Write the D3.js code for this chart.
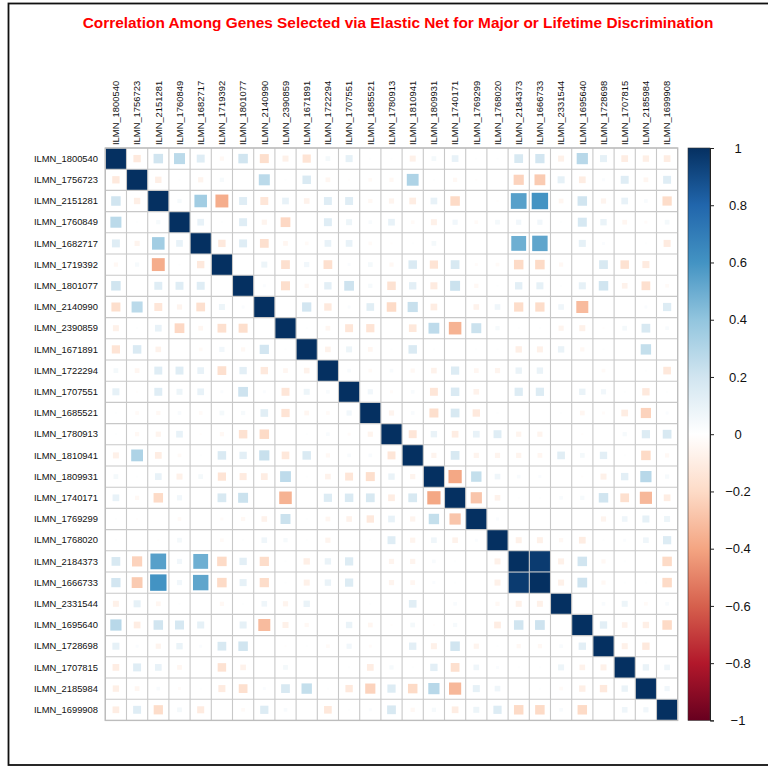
<!DOCTYPE html>
<html>
<head>
<meta charset="utf-8">
<script src="https://cdn.jsdelivr.net/npm/d3@7"></script>
<style>
  html, body { margin: 0; padding: 0; background: #ffffff; }
  svg { display: block; }
  text { font-family: "Liberation Sans", Arial, sans-serif; }
</style>
</head>
<body>
<svg id="chart" width="768" height="767"></svg>
<script>
// Genes selected via elastic net (row/column order of the matrix)
const genes = [
  "ILMN_1800540", "ILMN_1756723", "ILMN_2151281", "ILMN_1760849", "ILMN_1682717",
  "ILMN_1719392", "ILMN_1801077", "ILMN_2140990", "ILMN_2390859", "ILMN_1671891",
  "ILMN_1722294", "ILMN_1707551", "ILMN_1685521", "ILMN_1780913", "ILMN_1810941",
  "ILMN_1809931", "ILMN_1740171", "ILMN_1769299", "ILMN_1768020", "ILMN_2184373",
  "ILMN_1666733", "ILMN_2331544", "ILMN_1695640", "ILMN_1728698", "ILMN_1707815",
  "ILMN_2185984", "ILMN_1699908"
];

// Lower triangle of the correlation matrix: row i holds r(i, j) for j < i
const lowerRows = [
  [],
  [-0.12],
  [0.20, -0.09],
  [0.27, 0.01, 0.04],
  [0.14, -0.06, 0.35, 0.10],
  [-0.04, 0.04, -0.37, 0.01, -0.12],
  [0.20, 0.00, 0.14, 0.14, 0.14, 0.00],
  [-0.18, 0.27, -0.14, -0.06, -0.17, 0.08, 0.02],
  [-0.08, 0.01, 0.10, -0.21, -0.05, -0.17, -0.18, 0.00],
  [-0.15, 0.16, -0.07, 0.00, -0.03, 0.06, -0.04, 0.19, 0.01],
  [0.05, -0.05, 0.14, 0.14, 0.10, -0.17, 0.12, -0.12, -0.05, -0.07],
  [0.11, -0.01, 0.14, 0.08, 0.10, 0.02, 0.21, 0.02, -0.14, 0.08, 0.03],
  [0.01, -0.03, -0.04, 0.03, -0.03, 0.05, 0.04, 0.13, -0.15, -0.05, -0.03, 0.06],
  [0.01, -0.04, -0.06, 0.10, -0.01, -0.04, -0.16, -0.20, 0.00, 0.01, 0.03, -0.02, -0.06],
  [-0.08, 0.31, -0.10, -0.03, 0.01, 0.16, 0.12, 0.23, -0.13, 0.16, -0.04, 0.03, 0.03, -0.14],
  [0.05, 0.01, 0.10, -0.08, 0.05, -0.15, -0.11, -0.10, 0.26, 0.01, -0.07, -0.14, -0.18, 0.09, -0.06],
  [0.10, -0.04, -0.20, 0.06, 0.00, 0.17, 0.22, 0.00, -0.35, 0.00, 0.15, 0.16, 0.17, -0.10, 0.17, -0.39],
  [0.01, -0.01, 0.00, -0.03, 0.00, -0.02, -0.04, -0.07, 0.22, 0.01, -0.05, -0.07, -0.12, 0.10, -0.06, 0.24, -0.28],
  [0.01, 0.00, -0.01, 0.05, 0.00, -0.03, 0.01, 0.07, 0.04, 0.01, -0.06, 0.00, 0.01, 0.14, -0.06, 0.07, -0.07, 0.02],
  [0.17, -0.23, 0.55, 0.06, 0.49, -0.20, 0.12, -0.19, 0.01, -0.09, 0.09, 0.15, 0.00, -0.06, -0.06, 0.03, 0.01, 0.00, -0.08],
  [0.19, -0.26, 0.60, 0.06, 0.53, -0.20, 0.11, -0.19, 0.01, -0.08, 0.09, 0.15, 0.00, -0.06, -0.05, 0.02, 0.01, 0.00, -0.08, 0.96],
  [-0.08, 0.11, -0.05, 0.01, 0.00, -0.04, 0.01, 0.07, -0.06, 0.09, 0.00, 0.00, 0.01, 0.00, 0.13, 0.00, 0.03, 0.00, -0.04, -0.08, -0.08],
  [0.28, -0.10, 0.20, 0.18, 0.11, 0.00, 0.11, -0.32, -0.08, -0.04, 0.00, 0.09, -0.05, -0.01, 0.05, -0.01, 0.04, 0.00, -0.10, 0.20, 0.21, 0.00],
  [0.11, 0.02, -0.06, 0.09, 0.02, 0.17, 0.20, 0.00, -0.01, 0.01, -0.03, 0.06, -0.02, 0.00, 0.12, -0.08, 0.20, -0.06, 0.01, -0.04, -0.04, 0.03, 0.12],
  [-0.10, 0.14, 0.10, -0.05, 0.00, -0.16, -0.07, 0.00, 0.05, 0.00, 0.00, 0.01, -0.10, 0.04, 0.01, 0.12, -0.17, 0.07, 0.02, 0.01, 0.01, 0.08, -0.07, -0.08],
  [-0.09, -0.05, 0.03, -0.02, 0.01, -0.11, -0.17, 0.02, 0.17, 0.24, 0.01, -0.12, -0.23, 0.15, -0.20, 0.28, -0.33, 0.11, 0.07, 0.00, 0.01, -0.03, -0.09, -0.12, 0.09],
  [-0.10, 0.14, -0.19, 0.05, -0.11, 0.00, -0.03, 0.15, 0.03, 0.00, -0.13, 0.01, 0.02, 0.17, -0.04, 0.04, -0.10, 0.08, 0.15, -0.20, -0.20, 0.03, -0.20, 0.00, 0.07, 0.06]
];

// Colour legend tick values
const legendTicks = [-1, -0.8, -0.6, -0.4, -0.2, 0, 0.2, 0.4, 0.6, 0.8, 1];

// Diverging RdBu palette stops from -1 to 1
const paletteStops = ["#67001F", "#B2182B", "#D6604D", "#F4A582", "#FDDBC7", "#FFFFFF",
                      "#D1E5F0", "#92C5DE", "#4393C3", "#2166AC", "#053061"];

const titleText = "Correlation Among Genes Selected via Elastic Net for Major or Lifetime Discrimination";

// Full symmetric matrix built from the lower triangle
const n = genes.length;
const cells = [];
for (let i = 0; i < n; i++) {
  for (let j = 0; j < n; j++) {
    let r;
    if (i === j) r = 1;
    else if (j < i) r = lowerRows[i][j];
    else r = lowerRows[j][i];
    cells.push({ row: genes[i], col: genes[j], r });
  }
}

const svg = d3.select("#chart");

// outer frame
svg.append("rect")
  .attr("x", 8.5).attr("y", 3.5)
  .attr("width", 770).attr("height", 761.5)
  .attr("fill", "none").attr("stroke", "#111").attr("stroke-width", 1.8);

// title
svg.append("text")
  .attr("x", 398).attr("y", 27.5)
  .attr("text-anchor", "middle")
  .attr("fill", "#ff0000")
  .attr("font-weight", "bold")
  .attr("font-size", "15.4px")
  .text(titleText);

const gridLeft = 105.3, gridTop = 148, gridSize = 572.4;

const x = d3.scaleBand().domain(genes).range([gridLeft, gridLeft + gridSize]).padding(0);
const y = d3.scaleBand().domain(genes).range([gridTop, gridTop + gridSize]).padding(0);
const color = d3.scaleLinear()
  .domain(d3.range(paletteStops.length).map(k => -1 + 2 * k / (paletteStops.length - 1)))
  .range(paletteStops)
  .interpolate(d3.interpolateRgb);

const bw = x.bandwidth();

// white cell backgrounds
svg.append("g").selectAll("rect")
  .data(cells).join("rect")
  .attr("x", d => x(d.col)).attr("y", d => y(d.row))
  .attr("width", bw).attr("height", bw)
  .attr("fill", "#ffffff");

// squares: side proportional to sqrt(|r|)
svg.append("g").selectAll("rect")
  .data(cells).join("rect")
  .attr("x", d => x(d.col) + (bw - bw * Math.sqrt(Math.abs(d.r))) / 2)
  .attr("y", d => y(d.row) + (bw - bw * Math.sqrt(Math.abs(d.r))) / 2)
  .attr("width", d => bw * Math.sqrt(Math.abs(d.r)))
  .attr("height", d => bw * Math.sqrt(Math.abs(d.r)))
  .attr("fill", d => color(d.r));

// grid lines
const grid = svg.append("g").attr("stroke", "#c8c8c8").attr("stroke-width", 1.1);
genes.forEach(g => {
  grid.append("line")
    .attr("x1", x(g)).attr("x2", x(g))
    .attr("y1", gridTop).attr("y2", gridTop + gridSize);
  grid.append("line")
    .attr("y1", y(g)).attr("y2", y(g))
    .attr("x1", gridLeft).attr("x2", gridLeft + gridSize);
});
svg.append("rect")
  .attr("x", gridLeft).attr("y", gridTop)
  .attr("width", gridSize).attr("height", gridSize)
  .attr("fill", "none").attr("stroke", "#bdbdbd").attr("stroke-width", 1.4);

// row labels
svg.append("g").selectAll("text")
  .data(genes).join("text")
  .attr("x", 98)
  .attr("y", d => y(d) + bw / 2)
  .attr("dy", "0.35em")
  .attr("text-anchor", "end")
  .attr("font-size", "9.4px")
  .attr("fill", "#111")
  .text(d => d);

// column labels (rotated)
svg.append("g").selectAll("text")
  .data(genes).join("text")
  .attr("transform", d => `translate(${x(d) + bw / 2},145) rotate(-90)`)
  .attr("dy", "0.35em")
  .attr("text-anchor", "start")
  .attr("font-size", "9.4px")
  .attr("fill", "#111")
  .text(d => d);

// colour legend
const barX = 688, barW = 22;
const ly = d3.scaleLinear().domain([-1, 1]).range([gridTop + gridSize, gridTop]);
const defs = svg.append("defs");
const grad = defs.append("linearGradient")
  .attr("id", "legendGrad")
  .attr("x1", 0).attr("y1", 1).attr("x2", 0).attr("y2", 0);
paletteStops.forEach((c, k) => {
  grad.append("stop")
    .attr("offset", k / (paletteStops.length - 1))
    .attr("stop-color", c);
});
svg.append("rect")
  .attr("x", barX).attr("y", ly(1))
  .attr("width", barW).attr("height", ly(-1) - ly(1))
  .attr("fill", "url(#legendGrad)")
  .attr("stroke", "#333").attr("stroke-width", 0.6);

const legendAxis = d3.axisRight(ly)
  .tickValues(legendTicks)
  .tickSize(4)
  .tickFormat(v => d3.format("")(v).replace("-", "\u2212"));
const lg = svg.append("g")
  .attr("transform", `translate(${barX + barW},0)`)
  .call(legendAxis);
lg.select(".domain").attr("stroke", "#222").attr("stroke-width", 1);
lg.selectAll(".tick line").attr("stroke", "#222");
lg.selectAll(".tick text")
  .attr("x", 28)
  .attr("text-anchor", "middle")
  .attr("font-family", "'Liberation Sans', Arial, sans-serif")
  .attr("font-size", "13px")
  .attr("fill", "#111");
</script>
</body>
</html>
